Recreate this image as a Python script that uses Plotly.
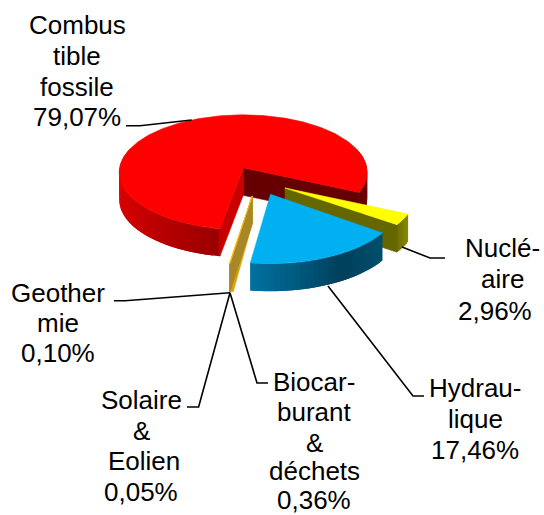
import math
import plotly.graph_objects as go

# --- data (share of generation, %) ---
categories = ["Combustible fossile", "Nucléaire", "Hydraulique",
              "Biocarburant & déchets", "Solaire & Eolien", "Geothermie"]
shares = [79.07, 2.96, 17.46, 0.36, 0.05, 0.10]
label_lines = [
    ["Combus", "tible", "fossile"],
    ["Nuclé-", "aire"],
    ["Hydrau-", "lique"],
    ["Biocar-", "burant", "&", "déchets"],
    ["Solaire", "&", "Eolien"],
    ["Geother", "mie"],
]

# --- projection / style ---
W, H = 544, 515
RX, RY, K = 123.6, 57.1, -0.0783   # tilt + perspective of the disc
DEPTH = 27.5
FIRST_ANGLE = 100.0                # clockwise on screen, 0 = east
FONT = dict(family="Liberation Sans, Arial, sans-serif", size=26, color="#000000")

# apex of each exploded slice, and its per-axis scale
explode = [
    dict(apex=(243.2, 167.8), sx=1.00, sy=1.00),
    dict(apex=(285.0, 188.0), sx=1.06, sy=1.06),
    dict(apex=(270.5, 194.3), sx=1.06, sy=1.12),
    dict(apex=(252.3, 196.0), sx=1.00, sy=1.115),
    dict(apex=(252.3, 196.0), sx=1.00, sy=1.115),
    dict(apex=(252.3, 196.0), sx=1.00, sy=1.115),
]
label_pos = [
    [(77, 25), (77, 56), (77, 87), (77, 117)],
    [(502, 248), (502, 279), (495, 311)],
    [(475, 388), (475, 419), (475, 450)],
    [(314, 382), (314, 412), (314, 443), (314, 471), (314, 500)],
    [(141, 400), (141, 431), (144, 461), (141, 492)],
    [(58, 293), (58, 323), (58, 353)],
]
leaders = [
    [(191.7, 120), (140, 125.7), (126, 125.7)],
    [(402, 247), (430, 258), (445, 258)],
    [(328, 286), (413, 396), (424, 396)],
    [(230, 292.7), (257, 383), (268, 383)],
    [(230, 292.7), (198.6, 407), (187, 407)],
    [(230, 292.7), (125, 300.7), (114, 300.7)],
]

# --- slice angles from the values ---
angles = []
a = FIRST_ANGLE
for v in shares:
    b = a + v * 3.6
    angles.append((a, b))
    a = b
angles = [(s % 360, s % 360 + (e - s)) for s, e in angles]


def pt(i, deg):
    e = explode[i]
    t = math.radians(deg)
    u, v = math.cos(t), math.sin(t)
    d = 1 + K * v
    return (e["apex"][0] + e["sx"] * RX * u / d, e["apex"][1] + e["sy"] * RY * v / d)


def arc(i, a0, a1, n=None):
    n = n or max(2, int(abs(a1 - a0)) + 2)
    return [pt(i, a0 + (a1 - a0) * k / (n - 1)) for k in range(n)]


def hex2rgb(c):
    return [int(c[j:j + 2], 16) for j in (1, 3, 5)]


def ramp(stops, x):
    if x <= stops[0][0]:
        return stops[0][1]
    for (x0, c0), (x1, c1) in zip(stops, stops[1:]):
        if x <= x1:
            f = (x - x0) / (x1 - x0)
            rgb = [round(p + (q - p) * f) for p, q in zip(hex2rgb(c0), hex2rgb(c1))]
            return "rgb(%d,%d,%d)" % tuple(rgb)
    return stops[-1][1]


fig = go.Figure()


def poly(points, color, name, lw=0.6):
    xs = [p[0] for p in points] + [points[0][0]]
    ys = [p[1] for p in points] + [points[0][1]]
    fig.add_trace(go.Scatter(x=xs, y=ys, mode="lines", fill="toself", fillcolor=color,
                             line=dict(color=color, width=lw), name=name,
                             hoverinfo="skip", showlegend=False))


def wall(i, a0, a1, stops, name, step=3.0):
    # painter's strips: each strip runs on under the next so no seam shows
    n = max(1, int(abs(a1 - a0) / step))
    for k in range(n):
        s = a0 + (a1 - a0) * k / n
        e = a0 + (a1 - a0) * (k + 1) / n
        stop = a0 + (a1 - a0) * min(k + 2, n) / n
        edge = arc(i, s, stop, 6)
        poly(edge + [(x, y + DEPTH) for x, y in reversed(edge)], ramp(stops, (s + e) / 2), name, lw=0)


def cut(i, deg, color, name):
    ax, ay = explode[i]["apex"]
    x, y = pt(i, deg)
    poly([(ax, ay), (x, y), (x, y + DEPTH), (ax, ay + DEPTH)], color, name)


def top(i, color, name):
    s, e = angles[i]
    poly([explode[i]["apex"]] + arc(i, s, e), color, name)


# red slice (wraps round the back)
s0, e0 = angles[0]
wall(0, s0, 200, [(100, "#9a0000"), (140, "#c40000"), (180, "#e80000")], categories[0])
wall(0, 340, e0, [(340, "#900000"), (385, "#600000")], categories[0])
cut(0, e0, "#660000", categories[0])
cut(0, s0, "#c80000", categories[0])
top(0, "#ff0000", categories[0])

# nuclear slice
s1, e1 = angles[1]
wall(1, s1, e1, [(24, "#8a8a00"), (36, "#6e6e00")], categories[1], step=1.5)
cut(1, e1, "#666600", categories[1])
top(1, "#ffff00", categories[1])

# hydro slice
s2, e2 = angles[2]
wall(2, s2, e2, [(35, "#00506e"), (60, "#00405c"), (80, "#005a80"), (98, "#00719f")], categories[2], step=2)
top(2, "#00b0f0", categories[2])

# small slices
for i, color, wall_col in [(3, "#ffc000", "#d8a400"), (4, "#ffc000", "#c49400"), (5, "#ffc000", "#a8862a")]:
    s, e = angles[i]
    cut(i, s, wall_col, categories[i])
    wall(i, s, e, [(98, wall_col), (101, wall_col)], categories[i], step=0.5)
    top(i, color, categories[i])

# leader lines
for cat, pts in zip(categories, leaders):
    fig.add_trace(go.Scatter(x=[p[0] for p in pts], y=[p[1] for p in pts], mode="lines",
                             line=dict(color="#000000", width=1.6), name=cat,
                             hoverinfo="skip", showlegend=False))

# labels
annotations = []
for lines, v, pos in zip(label_lines, shares, label_pos):
    texts = lines + [f"{v:.2f}%".replace(".", ",")]
    for t, (x, y) in zip(texts, pos):
        annotations.append(dict(x=x, y=y, text=t, showarrow=False, xanchor="center",
                                yanchor="middle", font=FONT, xref="x", yref="y"))

fig.update_layout(
    width=W, height=H, margin=dict(l=0, r=0, t=0, b=0),
    paper_bgcolor="#ffffff", plot_bgcolor="#ffffff", showlegend=False,
    xaxis=dict(range=[0, W], visible=False, fixedrange=True),
    yaxis=dict(range=[H, 0], visible=False, fixedrange=True),
    annotations=annotations,
)
fig.write_html("out.html", config=dict(displayModeBar=False),
               post_script="document.body.style.margin='0';document.body.style.overflow='hidden';")
